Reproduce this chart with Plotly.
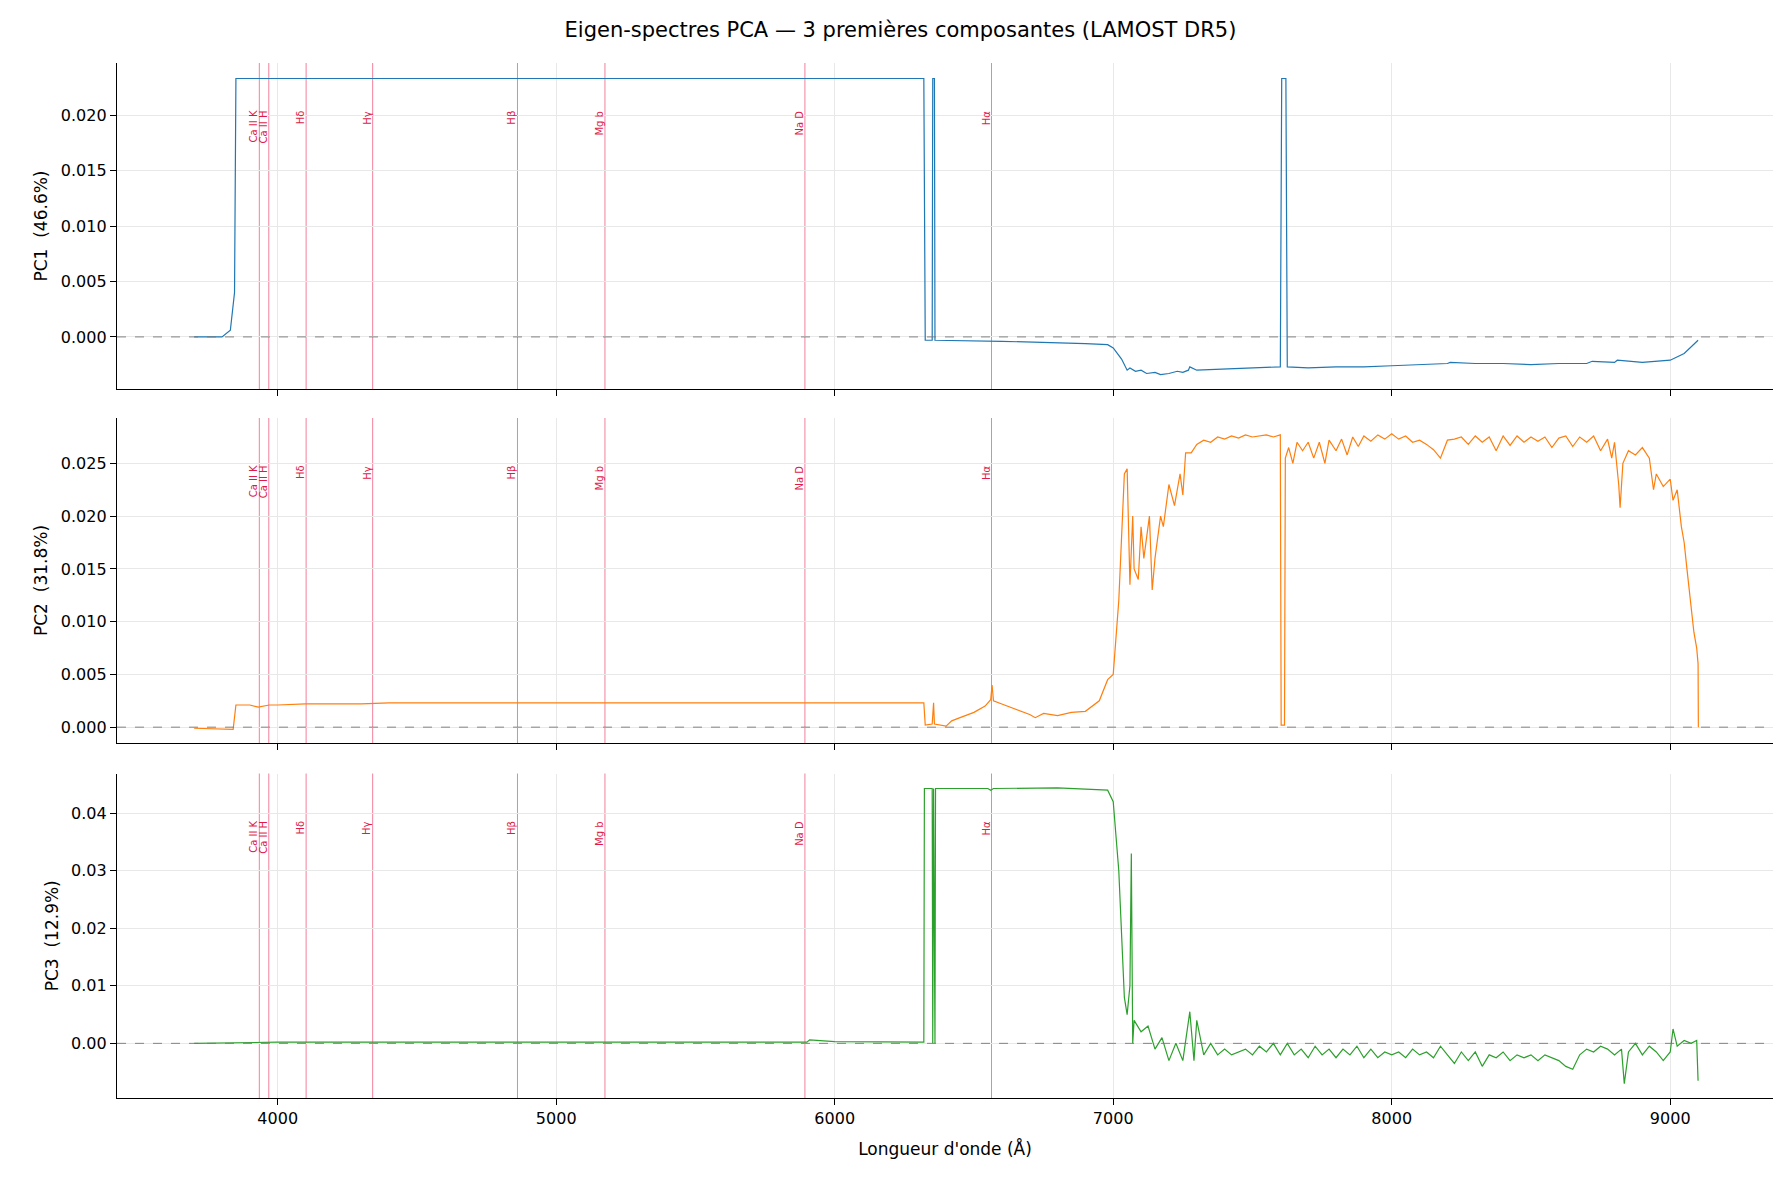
import plotly.graph_objects as go
from plotly.subplots import make_subplots

pc1_wl = [3700,3800,3830,3845,3850,6320,6325,6350,6352,6358,6360,6600,6900,6980,7000,7030,7050,7060,7080,7100,7120,7150,7170,7200,7230,7250,7270,7275,7300,7400,7500,7600,7605,7620,7625,7700,7800,7900,8000,8100,8200,8210,8300,8400,8500,8600,8700,8720,8800,8810,8900,9000,9050,9100]
pc1_val = [0.0,0.0,0.0006,0.004,0.0233,0.0233,-0.0003,-0.0003,0.0233,0.0233,-0.0003,-0.0004,-0.0006,-0.0007,-0.001,-0.002,-0.003,-0.0028,-0.0031,-0.003,-0.0033,-0.0032,-0.0034,-0.0033,-0.0031,-0.0032,-0.003,-0.0027,-0.003,-0.0029,-0.0028,-0.0027,0.0233,0.0233,-0.0027,-0.0028,-0.0027,-0.0027,-0.0026,-0.0025,-0.0024,-0.0023,-0.0024,-0.0024,-0.0025,-0.0024,-0.0024,-0.0022,-0.0023,-0.0021,-0.0023,-0.0021,-0.0015,-0.0003]

pc2_wl = [3700,3790,3840,3850,3900,3930,3970,4000,4100,4300,4400,5000,6000,6320,6325,6350,6355,6358,6400,6420,6450,6500,6540,6560,6565,6570,6600,6650,6700,6720,6750,6800,6850,6900,6950,6980,7000,7020,7040,7050,7055,7060,7070,7075,7090,7100,7110,7130,7140,7150,7170,7180,7200,7220,7240,7250,7260,7280,
          7300,7325,7350,7375,7400,7425,7450,7475,7500,7525,7550,7575,7600,7603,7615,7618,7630,7645,7660,7680,7700,7720,7740,7760,7775,7800,7820,7840,7860,7880,7900,7925,7950,7975,8000,8025,8050,8075,8100,8125,8150,8175,8200,8225,8250,8275,8300,8325,8350,8375,8400,8425,8450,8475,8500,8525,8550,8575,8600,8625,8650,8675,8700,8725,8750,8775,8790,8800,8815,8820,8830,8850,8875,8900,8925,8940,8950,8975,9000,9010,9025,9040,9050,9060,9075,9085,9095,9100,9101]
pc2_val = [-0.0001,-0.0002,-0.0002,0.0021,0.0021,0.0019,0.0021,0.0021,0.0022,0.0022,0.0023,0.0023,0.0023,0.0023,0.0002,0.0003,0.0023,0.0003,0.0001,0.0006,0.0009,0.0014,0.0020,0.0026,0.0040,0.0025,0.0022,0.0017,0.0012,0.0009,0.0013,0.0011,0.0014,0.0015,0.0025,0.0045,0.0050,0.0120,0.0240,0.0245,0.0200,0.0135,0.0200,0.0150,0.0140,0.0190,0.0160,0.0200,0.0130,0.0160,0.0200,0.0190,0.0230,0.0210,0.0240,0.0220,0.0260,0.0260,
           0.0268,0.0272,0.0270,0.0275,0.0273,0.0276,0.0274,0.0277,0.0275,0.0276,0.0277,0.0275,0.0277,0.0002,0.0002,0.0255,0.0265,0.0250,0.0270,0.0262,0.0270,0.0255,0.0270,0.0250,0.0272,0.0262,0.0273,0.0258,0.0275,0.0266,0.0276,0.0271,0.0277,0.0273,0.0278,0.0273,0.0276,0.0270,0.0272,0.0268,0.0263,0.0255,0.0272,0.0273,0.0275,0.0268,0.0276,0.0270,0.0275,0.0262,0.0276,0.0267,0.0276,0.0270,0.0275,0.0271,0.0275,0.0265,0.0274,0.0276,0.0266,0.0275,0.0270,0.0276,0.0262,0.0273,0.0255,0.0270,0.0230,0.0208,0.0250,0.0262,0.0258,0.0265,0.0255,0.0225,0.0240,0.0228,0.0235,0.0215,0.0225,0.0190,0.0175,0.0150,0.0115,0.0090,0.0075,0.0060,0.0]

pc3_wl = [3700,3840,4000,5000,5900,5910,6000,6320,6322,6350,6352,6355,6360,6362,6550,6560,6570,6800,6950,6980,7000,7020,7040,7050,7060,7065,7070,
          7075,7100,7125,7150,7175,7200,7225,7250,7275,7290,7300,7325,7350,7375,7400,7425,7450,7475,7500,7525,7550,7575,7600,7625,7650,7675,7700,7725,7750,7775,7800,7825,7850,7875,7900,7925,7950,7975,8000,8025,8050,8075,8100,8125,8150,8175,8200,8225,8250,8275,8300,8325,8350,8375,8400,8425,8450,8475,8500,8525,8550,8575,8600,8625,8650,8675,8700,8725,8750,8775,8800,8825,8835,8850,8875,8900,8925,8950,8975,9000,9010,9025,9050,9075,9095,9100]
pc3_val = [0.0,0.0001,0.0002,0.0002,0.0002,0.0006,0.0003,0.0002,0.0443,0.0443,0.0,0.0443,0.0,0.0443,0.0443,0.044,0.0443,0.0444,0.0440,0.0440,0.0420,0.0300,0.0080,0.0050,0.0100,0.0330,0.0,
           0.004,0.002,0.003,-0.001,0.001,-0.003,0.0,-0.003,0.0055,-0.003,0.004,-0.002,0.0,-0.002,-0.001,-0.002,-0.0015,-0.001,-0.002,-0.0005,-0.0015,0.0,-0.002,0.0,-0.002,-0.001,-0.0025,-0.0005,-0.002,-0.001,-0.0025,-0.001,-0.002,-0.0005,-0.0025,-0.001,-0.0025,-0.0015,-0.002,-0.0015,-0.0025,-0.001,-0.002,-0.0015,-0.0025,-0.0005,-0.002,-0.0035,-0.0015,-0.003,-0.0015,-0.004,-0.002,-0.0025,-0.0015,-0.003,-0.002,-0.0025,-0.002,-0.003,-0.002,-0.0025,-0.003,-0.004,-0.0045,-0.002,-0.001,-0.0015,-0.0005,-0.001,-0.002,-0.001,-0.007,-0.0015,0.0,-0.002,-0.0005,-0.0015,-0.003,-0.0015,0.0025,-0.0005,0.0005,0.0,0.0005,-0.0065]

line_names = ["Ca II K","Ca II H","Hδ","Hγ","Hβ","Mg b","Na D","Hα"]
line_wl = [3934,3968,4102,4341,4861,5175,5893,6563]

ylabels = ["PC1  (46.6%)","PC2  (31.8%)","PC3  (12.9%)"]
colors = ["#1f77b4","#ff7f0e","#2ca02c"]
yranges = [[-0.0047,0.0247],[-0.0015,0.0293],[-0.0095,0.0469]]
ytick = [[0,0.005,0.01,0.015,0.02],[0,0.005,0.01,0.015,0.02,0.025],[0,0.01,0.02,0.03,0.04]]
yfmt = [".3f",".3f",".2f"]

fig = make_subplots(rows=3, cols=1, shared_xaxes=True, vertical_spacing=0.03)
series = [(pc1_wl,pc1_val),(pc2_wl,pc2_val),(pc3_wl,pc3_val)]
for i,(x,y) in enumerate(series):
    fig.add_trace(go.Scatter(x=x, y=y, mode="lines", line=dict(color=colors[i], width=1.2), showlegend=False), row=i+1, col=1)
for i in range(3):
    r = i+1
    for wl in line_wl:
        fig.add_vline(x=wl, line=dict(color="rgba(230,20,70,0.6)", width=0.9), layer="below", row=r, col=1)
    fig.add_hline(y=0, line=dict(color="#777777", width=0.9, dash="dash"), layer="above", row=r, col=1)
    yref = "y domain" if r == 1 else f"y{r} domain"
    xref = "x" if r == 1 else f"x{r}"
    for n, wl in zip(line_names, line_wl):
        fig.add_annotation(x=wl, y=0.86, xref=xref, yref=yref, text=n, textangle=-90,
                           showarrow=False, xanchor="right", yanchor="top", xshift=2,
                           font=dict(size=10, color="#e0194a"))
    fig.update_yaxes(range=yranges[i], tickvals=ytick[i], tickformat=yfmt[i], row=r, col=1,
                     title_text=ylabels[i])

doms = [[0.685,1.0],[0.343,0.657],[0.0,0.3135]]
axstyle = dict(showline=True, linecolor="black", linewidth=1.3, ticks="outside", ticklen=6,
               tickcolor="black", showgrid=True, gridcolor="#e8e8e8", zeroline=False, mirror=False,
               automargin=False, tickfont=dict(size=16, color="black"))
for i in range(3):
    fig.layout[f"yaxis{'' if i==0 else i+1}"].update(domain=doms[i], title_font=dict(size=17), title_standoff=8, **axstyle)
    fig.layout[f"xaxis{'' if i==0 else i+1}"].update(range=[3423,9369], tickvals=[4000,5000,6000,7000,8000,9000], **axstyle)
fig.update_xaxes(showticklabels=True, tickformat="d", row=3, col=1, title_text="Longueur d'onde (Å)", title_font=dict(size=17))

fig.update_layout(width=1785, height=1183, plot_bgcolor="white", paper_bgcolor="white",
                  margin=dict(l=109, r=20, t=55, b=93),
                  font=dict(family="DejaVu Sans", color="black"),
                  title=dict(text="Eigen-spectres PCA — 3 premières composantes (LAMOST DR5)", x=0.5, xanchor="center", y=0.988, font=dict(size=21)))
fig.write_html("out.html")
